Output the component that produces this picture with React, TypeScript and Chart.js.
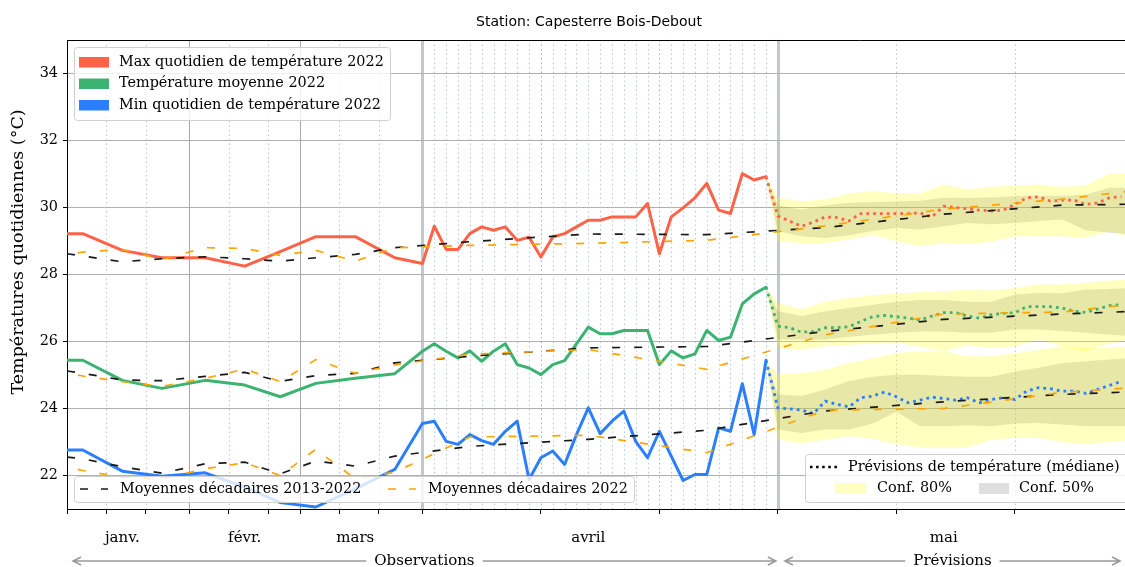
import { useEffect, useRef } from 'react';
import { Chart, registerables } from 'chart.js';

Chart.register(...registerables);

// ---------- axis helpers (Jan–Mar shown at 1/3 scale, April/May daily) ----------
const MONTH_START: Record<string, number> = { '01': 0, '02': 31, '03': 59, '04': 90, '05': 120 };
function toAxis(md: string): number {
  const [m, d] = md.split('-');
  const doy = MONTH_START[m] + Number(d) - 1;
  return doy < 90 ? doy / 3 : doy - 60;
}

// ---------- categories ----------
const janMarDates = ['01-01', '01-05', '01-15', '01-25', '02-05', '02-15', '02-24', '03-05', '03-15', '03-25'];
const aprilDates = [
  '04-01', '04-02', '04-03', '04-04', '04-05', '04-06', '04-07', '04-08', '04-09', '04-10',
  '04-11', '04-12', '04-13', '04-14', '04-15', '04-16', '04-17', '04-18', '04-19', '04-20',
  '04-21', '04-22', '04-23', '04-24', '04-25', '04-26', '04-27', '04-28', '04-29', '04-30',
];
const mayDates = [
  '05-01', '05-02', '05-03', '05-04', '05-05', '05-06', '05-07', '05-08', '05-09', '05-10',
  '05-11', '05-12', '05-13', '05-14', '05-15', '05-16', '05-17', '05-18', '05-19', '05-20',
  '05-21', '05-22', '05-23', '05-24', '05-25', '05-26', '05-27', '05-28', '05-29', '05-30',
];
const obsDates = [...janMarDates, ...aprilDates];
const forecastDates = ['04-30', ...mayDates];
const dekadDates = [...janMarDates, '04-05', '04-15', '04-25', '05-05', '05-15', '05-25', '05-31'];
const bandDates = ['04-30', '05-01', '05-03', '05-05', '05-07', '05-09', '05-11', '05-13', '05-15', '05-17', '05-19', '05-21', '05-23', '05-25', '05-27', '05-29', '05-31'];

// ---------- observed series ----------
const maxObs = [29.22, 29.22, 28.72, 28.5, 28.5, 28.25, 28.68, 29.13, 29.13, 28.5,
  28.33, 29.44, 28.75, 28.75, 29.22, 29.42, 29.32, 29.42, 29.02, 29.11,
  28.52, 29.12, 29.22, 29.42, 29.62, 29.62, 29.72, 29.72, 29.72, 30.12,
  28.62, 29.72, 29.99, 30.29, 30.72, 29.92, 29.82, 31.01, 30.82, 30.92];
const meanObs = [25.44, 25.44, 24.84, 24.6, 24.84, 24.7, 24.35, 24.75, 24.9, 25.04,
  25.71, 25.93, 25.71, 25.51, 25.72, 25.41, 25.71, 25.93, 25.31, 25.21,
  25.01, 25.31, 25.43, 25.93, 26.43, 26.23, 26.23, 26.33, 26.33, 26.33,
  25.31, 25.72, 25.51, 25.63, 26.33, 26.03, 26.13, 27.12, 27.42, 27.62];
const minObs = [22.76, 22.76, 22.13, 21.98, 22.08, 21.65, 21.19, 21.06, 21.6, 22.18,
  23.55, 23.62, 23.02, 22.93, 23.22, 23.04, 22.93, 23.32, 23.62, 21.88,
  22.53, 22.73, 22.33, 23.22, 24.02, 23.25, 23.62, 23.92, 23.02, 22.53,
  23.32, 22.58, 21.85, 22.03, 22.03, 23.42, 23.32, 24.74, 23.22, 25.44];

// ---------- forecast medians ----------
const maxFc = [30.92, 29.75, 29.59, 29.44, 29.56, 29.72, 29.7, 29.6, 29.82, 29.82, 29.82,
  29.82, 29.82, 29.84, 29.72, 30.04, 30.0, 29.96, 29.92, 29.9, 29.92,
  30.09, 30.29, 30.32, 30.19, 30.22, 30.22, 30.09, 30.14, 30.29, 30.32];
const meanFc = [27.62, 26.46, 26.41, 26.28, 26.3, 26.41, 26.41, 26.44, 26.6, 26.74, 26.78,
  26.74, 26.7, 26.64, 26.76, 26.86, 26.86, 26.76, 26.7, 26.8, 26.84,
  26.86, 27.04, 27.04, 27.04, 27.0, 26.9, 26.87, 26.97, 27.07, 27.1];
const minFc = [25.44, 24.02, 23.99, 23.95, 23.85, 24.22, 24.12, 24.05, 24.32, 24.37, 24.49,
  24.35, 24.17, 24.25, 24.34, 24.3, 24.25, 24.32, 24.17, 24.27, 24.32,
  24.27, 24.52, 24.62, 24.59, 24.52, 24.52, 24.45, 24.57, 24.69, 24.81];

// ---------- dekadal means ----------
const maxDekadRef = [28.62, 28.55, 28.38, 28.47, 28.53, 28.47, 28.4, 28.5, 28.6, 28.8, 28.98, 29.21, 29.19, 29.4, 29.8, 30.07, 30.1];
const maxDekad22 = [28.6, 28.67, 28.75, 28.45, 28.8, 28.78, 28.57, 28.72, 28.4, 28.8, 28.87, 28.93, 29.02, 29.45, 29.95, 30.25, 30.5];
const meanDekadRef = [25.12, 25.05, 24.85, 24.83, 24.96, 25.08, 24.81, 24.98, 25.05, 25.36, 25.56, 25.81, 25.85, 26.3, 26.66, 26.82, 26.9];
const meanDekad22 = [25.06, 24.97, 24.8, 24.66, 24.9, 25.18, 24.8, 25.46, 25.05, 25.3, 25.62, 25.76, 25.17, 26.2, 26.82, 26.88, 27.12];
const minDekadRef = [22.55, 22.5, 22.26, 22.07, 22.35, 22.4, 22.05, 22.43, 22.28, 22.58, 22.87, 23.08, 23.35, 23.93, 24.2, 24.42, 24.5];
const minDekad22 = [22.25, 22.15, 21.95, 21.9, 22.2, 22.38, 22.0, 22.78, 21.9, 22.1, 23.15, 23.2, 22.68, 23.95, 24.0, 24.48, 24.62];

// ---------- forecast confidence bands ----------
const maxC80Hi = [30.92, 30.29, 30.19, 30.24, 30.42, 30.49, 30.42, 30.42, 30.69, 30.54, 30.62, 30.66, 30.69, 30.62, 30.66, 31.01, 31.03];
const maxC50Hi = [30.92, 30.06, 29.94, 30.06, 30.14, 30.16, 30.18, 30.2, 30.29, 30.29, 30.3, 30.34, 30.35, 30.34, 30.38, 30.59, 30.59];
const maxC50Lo = [30.92, 29.29, 29.14, 29.09, 29.17, 29.3, 29.39, 29.34, 29.44, 29.54, 29.5, 29.54, 29.6, 29.64, 29.32, 29.25, 29.19];
const maxC80Lo = [30.92, 28.99, 28.94, 28.94, 29.04, 29.19, 29.0, 28.84, 28.95, 28.9, 28.98, 29.14, 29.14, 29.14, 29.1, 29.29, 29.1];
const meanC80Hi = [27.62, 27.16, 26.96, 27.19, 27.3, 27.38, 27.43, 27.47, 27.5, 27.55, 27.52, 27.6, 27.7, 27.7, 27.75, 27.82, 27.85];
const meanC50Hi = [27.62, 26.9, 26.76, 26.9, 27.0, 27.1, 27.19, 27.24, 27.24, 27.19, 27.19, 27.4, 27.45, 27.44, 27.55, 27.57, 27.6];
const meanC50Lo = [27.62, 26.06, 26.06, 26.06, 26.14, 26.2, 26.26, 26.3, 26.3, 26.26, 26.26, 26.36, 26.36, 26.31, 26.26, 26.2, 26.16];
const meanC80Lo = [27.62, 25.81, 25.76, 25.86, 25.9, 25.93, 25.96, 25.85, 25.7, 25.9, 25.8, 25.85, 26.06, 25.86, 25.7, 25.95, 26.06];
const minC80Hi = [25.44, 25.01, 25.06, 25.16, 25.36, 25.5, 25.66, 25.7, 25.7, 25.56, 25.56, 25.65, 25.75, 25.86, 25.8, 25.82, 25.86];
const minC50Hi = [25.44, 24.42, 24.37, 24.57, 24.82, 24.95, 25.01, 25.01, 24.97, 24.95, 24.95, 25.1, 25.22, 25.36, 25.41, 25.46, 25.51];
const minC50Lo = [25.44, 23.37, 23.27, 23.37, 23.37, 23.55, 23.9, 23.47, 23.47, 23.5, 23.47, 23.55, 23.57, 23.52, 23.47, 23.47, 23.47];
const minC80Lo = [25.44, 23.07, 22.97, 23.07, 23.17, 23.1, 22.94, 22.84, 22.84, 22.84, 23.07, 23.12, 23.12, 23.0, 22.94, 23.0, 23.07];

// ---------- ticks / labels ----------
const yTicks = [22, 24, 26, 28, 30, 32, 34];
const xTickDates = ['01-01', '01-11', '01-21', '02-01', '02-11', '02-21', '03-01', '03-11', '03-21', '04-01', '04-11', '04-21', '05-01', '05-11', '05-21'];
const monthLabels = ['janv.', 'févr.', 'mars', 'avril', 'mai'];
const monthLabelDates = ['01-15', '02-15', '03-15', '04-15', '05-15'];
const monthBoundaryDates = ['02-01', '03-01'];
const periodBoundaryDates = ['04-01', '05-01'];
const dekadBoundaryDates = ['01-11', '01-21', '02-11', '02-21', '03-11', '03-21', '04-11', '04-21', '05-11', '05-21'];
const xMaxDate = '05-30';

const TITLE = 'Station: Capesterre Bois-Debout';
const Y_TITLE = 'Températures quotidiennes (°C)';

const RED = '#ff6347';
const GREEN = '#3cb371';
const BLUE = '#2b7fff';
const ORANGE = '#ffa500';
const YELLOW_BAND = 'rgba(255,255,0,0.25)';
const GRAY_BAND = 'rgba(128,128,128,0.25)';
const SERIF = '"DejaVu Serif", serif';
const FS = 14.4;

const mk = (dates: string[], vals: number[]) => dates.map((d, i) => ({ x: toAxis(d), y: vals[i] }));

function buildDatasets() {
  const ds: any[] = [];
  const band = (hi: number[], lo: number[], color: string) => {
    const i = ds.length;
    ds.push({ data: mk(bandDates, hi), borderWidth: 0, borderColor: 'transparent', pointRadius: 0, fill: i + 1, backgroundColor: color, order: 100 });
    ds.push({ data: mk(bandDates, lo), borderWidth: 0, borderColor: 'transparent', pointRadius: 0, fill: false, order: 100 });
  };
  band(maxC80Hi, maxC80Lo, YELLOW_BAND);
  band(maxC50Hi, maxC50Lo, GRAY_BAND);
  band(meanC80Hi, meanC80Lo, YELLOW_BAND);
  band(meanC50Hi, meanC50Lo, GRAY_BAND);
  band(minC80Hi, minC80Lo, YELLOW_BAND);
  band(minC50Hi, minC50Lo, GRAY_BAND);

  const solid = (vals: number[], color: string) =>
    ds.push({ data: mk(obsDates, vals), borderColor: color, borderWidth: 3, pointRadius: 0, fill: false, borderJoinStyle: 'round', borderCapStyle: 'round', order: 50 });
  solid(maxObs, RED);
  solid(meanObs, GREEN);
  solid(minObs, BLUE);

  const dotted = (vals: number[], color: string) =>
    ds.push({ data: mk(forecastDates, vals), borderColor: color, borderWidth: 2.8, borderDash: [2.8, 4], pointRadius: 0, fill: false, order: 40 });
  dotted(maxFc, RED);
  dotted(meanFc, GREEN);
  dotted(minFc, BLUE);

  const dashed = (vals: number[], color: string, offset: number) =>
    ds.push({ data: mk(dekadDates, vals), borderColor: color, borderWidth: 1.7, borderDash: [8, 14], borderDashOffset: offset, pointRadius: 0, fill: false, order: 10 });
  dashed(maxDekad22, ORANGE, 11);
  dashed(meanDekad22, ORANGE, 11);
  dashed(minDekad22, ORANGE, 11);
  dashed(maxDekadRef, '#1a1a1a', 0);
  dashed(meanDekadRef, '#1a1a1a', 0);
  dashed(minDekadRef, '#1a1a1a', 0);
  return ds;
}

function roundRect(ctx: CanvasRenderingContext2D, x: number, y: number, w: number, h: number, r: number) {
  ctx.beginPath();
  ctx.moveTo(x + r, y);
  ctx.lineTo(x + w - r, y);
  ctx.quadraticCurveTo(x + w, y, x + w, y + r);
  ctx.lineTo(x + w, y + h - r);
  ctx.quadraticCurveTo(x + w, y + h, x + w - r, y + h);
  ctx.lineTo(x + r, y + h);
  ctx.quadraticCurveTo(x, y + h, x, y + h - r);
  ctx.lineTo(x, y + r);
  ctx.quadraticCurveTo(x, y, x + r, y);
  ctx.closePath();
}

function legendBox(ctx: CanvasRenderingContext2D, x: number, y: number, w: number, h: number) {
  roundRect(ctx, x + 0.5, y + 0.5, w, h, 3);
  ctx.fillStyle = 'rgba(255,255,255,0.8)';
  ctx.fill();
  ctx.strokeStyle = '#d0d0d0';
  ctx.lineWidth = 1;
  ctx.stroke();
}

function handleLine(ctx: CanvasRenderingContext2D, x: number, y: number, len: number, color: string, width: number, dash: number[]) {
  ctx.save();
  ctx.strokeStyle = color;
  ctx.lineWidth = width;
  ctx.setLineDash(dash);
  ctx.beginPath();
  ctx.moveTo(x, y);
  ctx.lineTo(x + len, y);
  ctx.stroke();
  ctx.restore();
}

function arrow(ctx: CanvasRenderingContext2D, x1: number, x2: number, y: number, text: string) {
  ctx.save();
  ctx.font = `${FS + 0.6}px ${SERIF}`;
  const tw = ctx.measureText(text).width;
  const cx = (x1 + x2) / 2;
  ctx.strokeStyle = '#9a9a9a';
  ctx.lineWidth = 1.5;
  ctx.beginPath();
  ctx.moveTo(x1, y);
  ctx.lineTo(cx - tw / 2 - 8, y);
  ctx.moveTo(cx + tw / 2 + 8, y);
  ctx.lineTo(x2, y);
  ctx.moveTo(x1 + 8, y - 4);
  ctx.lineTo(x1, y);
  ctx.lineTo(x1 + 8, y + 4);
  ctx.moveTo(x2 - 8, y - 4);
  ctx.lineTo(x2, y);
  ctx.lineTo(x2 - 8, y + 4);
  ctx.stroke();
  ctx.fillStyle = '#000';
  ctx.textAlign = 'center';
  ctx.textBaseline = 'middle';
  ctx.fillText(text, cx, y);
  ctx.restore();
}

const decorPlugin = {
  id: 'decor',
  beforeDatasetsDraw(chart: any) {
    const { ctx, chartArea: a, scales } = chart;
    const x = scales.x;
    ctx.save();
    ctx.beginPath();
    ctx.rect(a.left, a.top, a.right - a.left, a.bottom - a.top);
    ctx.clip();
    const vline = (u: number, color: string, width: number, dash: number[]) => {
      const px = Math.round(x.getPixelForValue(u)) + 0.5;
      ctx.strokeStyle = color;
      ctx.lineWidth = width;
      ctx.setLineDash(dash);
      ctx.beginPath();
      ctx.moveTo(px, a.top);
      ctx.lineTo(px, a.bottom);
      ctx.stroke();
    };
    aprilDates.slice(1).forEach((d) => {
      if (!dekadBoundaryDates.includes(d)) vline(toAxis(d), '#abcde8', 1, [1.5, 3]);
    });
    dekadBoundaryDates.forEach((d) => vline(toAxis(d), d.startsWith('04') ? '#9fb3c6' : '#c4c4c4', 1, [1.5, 3]));
    monthBoundaryDates.forEach((d) => vline(toAxis(d), '#a8a8a8', 1, []));
    periodBoundaryDates.forEach((d) => vline(toAxis(d), 'rgba(175,182,190,0.75)', 3, []));
    ctx.restore();
  },
  afterDraw(chart: any) {
    const { ctx, chartArea: a, scales } = chart;
    const x = scales.x;
    ctx.save();
    // top spine
    ctx.strokeStyle = '#000';
    ctx.lineWidth = 1;
    ctx.beginPath();
    ctx.moveTo(a.left, a.top + 0.5);
    ctx.lineTo(a.right, a.top + 0.5);
    ctx.stroke();

    // title
    ctx.fillStyle = '#000';
    ctx.font = '14px "DejaVu Sans", sans-serif';
    ctx.textAlign = 'center';
    ctx.textBaseline = 'middle';
    ctx.fillText(TITLE, 589, 22);

    // y title
    ctx.save();
    ctx.translate(18, 252);
    ctx.rotate(-Math.PI / 2);
    ctx.font = `17.5px ${SERIF}`;
    ctx.fillText(Y_TITLE, 0, 0);
    ctx.restore();

    // month labels
    ctx.font = `${FS + 0.6}px ${SERIF}`;
    monthLabels.forEach((m, i) => ctx.fillText(m, x.getPixelForValue(toAxis(monthLabelDates[i])), 538));

    // period arrows
    const pStart = x.getPixelForValue(toAxis(periodBoundaryDates[1]));
    arrow(ctx, x.getPixelForValue(0) + 6, pStart - 2, 561, 'Observations');
    arrow(ctx, pStart + 7, a.right - 5, 561, 'Prévisions');

    // legend 1 (top-left)
    ctx.font = `${FS}px ${SERIF}`;
    ctx.textAlign = 'left';
    legendBox(ctx, 74, 47, 316, 73);
    const l1 = [['Max quotidien de température 2022', RED], ['Température moyenne 2022', GREEN], ['Min quotidien de température 2022', BLUE]];
    l1.forEach(([t, c], i) => {
      const yy = 62 + i * 21.5;
      ctx.fillStyle = c;
      ctx.fillRect(79, yy - 5, 30, 10.5);
      ctx.fillStyle = '#000';
      ctx.fillText(t, 119, yy);
    });

    // legend 2 (dekadal means)
    legendBox(ctx, 74, 476, 560, 26);
    handleLine(ctx, 80, 489, 28, '#1a1a1a', 1.7, [8, 13]);
    ctx.fillStyle = '#000';
    ctx.fillText('Moyennes décadaires 2013-2022', 120, 489);
    handleLine(ctx, 388, 489, 28, ORANGE, 1.7, [8, 13]);
    ctx.fillStyle = '#000';
    ctx.fillText('Moyennes décadaires 2022', 428, 489);

    // legend 3 (forecast)
    legendBox(ctx, 805, 454, 325, 48);
    handleLine(ctx, 810, 467, 28, '#000', 2.5, [2.5, 3.6]);
    ctx.fillStyle = '#000';
    ctx.fillText('Prévisions de température (médiane)', 848, 467);
    ctx.fillStyle = YELLOW_BAND;
    ctx.fillRect(835, 483, 31, 11);
    ctx.fillStyle = '#000';
    ctx.fillText('Conf. 80%', 877, 488.5);
    ctx.fillStyle = GRAY_BAND;
    ctx.fillRect(979, 483, 30, 11);
    ctx.fillStyle = '#000';
    ctx.fillText('Conf. 50%', 1019, 488.5);
    ctx.restore();
  },
};

export default function App() {
  const ref = useRef<HTMLCanvasElement | null>(null);
  useEffect(() => {
    if (!ref.current) return;
    const chart = new Chart(ref.current, {
      type: 'line',
      data: { datasets: buildDatasets() },
      options: {
        animation: false,
        responsive: false,
        devicePixelRatio: 1,
        layout: { padding: { top: 40, left: 0, right: 0, bottom: 0 } },
        plugins: { legend: { display: false }, title: { display: false }, tooltip: { enabled: false } },
        elements: { line: { tension: 0 } },
        scales: {
          x: {
            type: 'linear',
            min: 0,
            max: toAxis(xMaxDate) + 0.3,
            afterBuildTicks: (s: any) => { s.ticks = xTickDates.map((d) => ({ value: toAxis(d) })); },
            afterFit: (s: any) => { s.height = 58; },
            ticks: { callback: () => '', autoSkip: false, maxRotation: 0, font: { size: 1 } },
            grid: { drawOnChartArea: false, drawTicks: true, tickLength: 5, tickColor: '#000', tickWidth: 1 },
            border: { display: true, color: '#000', width: 1 },
          },
          y: {
            type: 'linear',
            min: 21,
            max: 35,
            afterBuildTicks: (s: any) => { s.ticks = yTicks.map((v) => ({ value: v })); },
            afterFit: (s: any) => { s.width = 67; },
            ticks: { font: { family: SERIF, size: FS }, color: '#000', padding: 5 },
            grid: { color: '#b0b0b0', lineWidth: 1, tickColor: '#000', tickLength: 4 },
            border: { display: true, color: '#000', width: 1 },
          },
        },
      } as any,
      plugins: [decorPlugin],
    });
    return () => chart.destroy();
  }, []);
  return (
    <canvas
      ref={ref}
      width={1125}
      height={567}
      style={{ position: 'absolute', left: 0, top: 0, width: 1125, height: 567 }}
    />
  );
}
